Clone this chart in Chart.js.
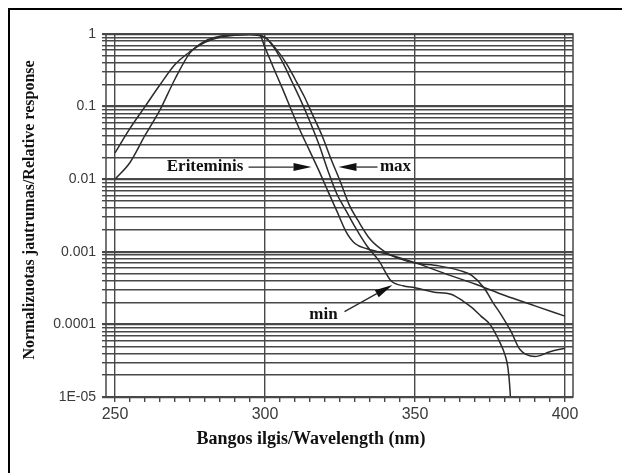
<!DOCTYPE html>
<html>
<head>
<meta charset="utf-8">
<script src="https://cdn.jsdelivr.net/npm/chart.js@4.4.1/dist/chart.umd.min.js"></script>
<style>
    html, body { margin: 0; padding: 0; background: #fff; }
    #wrap { position: relative; width: 622px; height: 473px; overflow: hidden; }
    #frame {
        position: absolute; left: 8px; top: 8px; width: 640px; height: 480px;
        border-left: 2px solid #000; border-top: 2px solid #000;
    }
    #spectrum { position: absolute; left: 0; top: 0; }
</style>
</head>
<body>
<div id="wrap">
    <div id="frame"></div>
    <canvas id="spectrum" width="622" height="473"></canvas>
</div>
<script>
/* ==========================================
   Spectral response data (relative, log scale)
========================================== */

const wavelengthTicks = [250, 255, 260, 265, 270, 275, 280, 285, 290, 295, 300, 305, 310, 315,
    320, 325, 330, 335, 340, 345, 350, 355, 360, 365, 370, 375, 380, 385, 390, 395, 400];

const labelledWavelengths = [250, 300, 350, 400];

const gridValues = [
    0.00001, 0.00002, 0.00003, 0.00004, 0.00005, 0.00006, 0.00007, 0.00008, 0.00009,
    0.0001, 0.0002, 0.0003, 0.0004, 0.0005, 0.0006, 0.0007, 0.0008, 0.0009,
    0.001, 0.002, 0.003, 0.004, 0.005, 0.006, 0.007, 0.008, 0.009,
    0.01, 0.02, 0.03, 0.04, 0.05, 0.06, 0.07, 0.08, 0.09,
    0.1, 0.2, 0.3, 0.4, 0.5, 0.6, 0.7, 0.8, 0.9,
    1
];

const decadeValues = [1, 0.1, 0.01, 0.001, 0.0001, 0.00001];
const decadeLabels = ['1', '0.1', '0.01', '0.001', '0.0001', '1E-05'];

// erythemal action spectrum
const eritWl = [250, 270, 290, 298, 300, 303, 306, 309, 312, 315, 318, 321, 324, 327, 330,
    334, 340, 350, 360, 370, 380, 390, 400];
const eritVal = [1, 1, 1, 1, 0.65, 0.33, 0.17, 0.085, 0.044, 0.024, 0.013, 0.0068, 0.0036,
    0.0019, 0.0013, 0.0011, 0.00095, 0.00071, 0.0005, 0.00036, 0.00025, 0.00018, 0.00013];

// meter response, upper envelope
const maxWl = [250, 255, 260, 265, 270, 275, 280, 285, 290, 295, 300, 304, 307, 310, 313,
    316, 319, 322, 325, 328, 331, 335, 340, 345, 350, 358, 365, 369, 373, 376, 379, 382,
    385, 390, 395, 400];
const maxVal = [0.023, 0.05, 0.1, 0.2, 0.38, 0.57, 0.77, 0.9, 0.96, 0.98, 0.9, 0.6, 0.4,
    0.24, 0.14, 0.075, 0.04, 0.019, 0.0095, 0.0045, 0.0027, 0.0015, 0.001, 0.0008, 0.0007,
    0.00064, 0.00055, 0.00047, 0.00032, 0.0002, 0.00013, 0.00008, 0.000045, 0.000036,
    0.000042, 0.000047];

// meter response, lower envelope
const minWl = [250, 255, 260, 265, 270, 275, 280, 285, 290, 295, 300, 303, 306, 309, 312,
    315, 318, 321, 324, 327, 330, 334, 338, 342, 346, 350, 356, 362, 366, 369, 372, 375,
    378, 380, 381, 381.7, 382.2];
const minVal = [0.01, 0.017, 0.04, 0.09, 0.24, 0.55, 0.8, 0.93, 0.98, 0.99, 0.9, 0.65, 0.4,
    0.22, 0.12, 0.062, 0.03, 0.013, 0.0062, 0.0037, 0.0022, 0.0012, 0.00075, 0.0004, 0.00034,
    0.00032, 0.00028, 0.00026, 0.00021, 0.00017, 0.00013, 0.0001, 0.00006, 0.000038,
    0.000025, 0.000012, 0.000004];

const notes = [
    { text: 'Eriteminis', at: [280, 0.0147], from: [294.5, 0.0147], to: [315.5, 0.0147] },
    { text: 'max', at: [343.5, 0.0147], from: [337.5, 0.0147], to: [324.5, 0.0147] },
    { text: 'min', at: [319.5, 0.000135], from: [326.5, 0.00015], to: [342.5, 0.00035] }
];

const ink = '#2b2b2b';
const gridInk = '#484848';

function toPoints(wl, val) {
    return wl.map(function (w, i) {
        return { x: w, y: val[i] };
    });
}

function curve(label, wl, val) {
    return {
        label: label,
        data: toPoints(wl, val),
        borderColor: ink,
        borderWidth: 1.5,
        pointRadius: 0,
        cubicInterpolationMode: 'monotone',
        fill: false
    };
}

function isDecade(value) {
    return decadeValues.some(function (d) {
        return Math.abs(value / d - 1) < 1e-6;
    });
}

// box around the plot area
const framePlugin = {
    id: 'plotFrame',
    afterDraw(chart) {
        const { ctx, chartArea } = chart;
        ctx.save();
        ctx.strokeStyle = gridInk;
        ctx.lineWidth = 1.5;
        ctx.strokeRect(chartArea.left, chartArea.top,
            chartArea.right - chartArea.left, chartArea.bottom - chartArea.top);
        ctx.restore();
    }
};

// curve names with arrows, plus both axis captions
const notesPlugin = {
    id: 'curveNotes',
    afterDatasetsDraw(chart) {
        const { ctx } = chart;
        const xs = chart.scales.x;
        const ys = chart.scales.y;

        ctx.save();
        ctx.fillStyle = '#111';
        ctx.strokeStyle = ink;
        ctx.lineWidth = 1.3;
        ctx.font = 'bold 17px "Liberation Serif"';
        ctx.textAlign = 'center';
        ctx.textBaseline = 'middle';

        notes.forEach(function (n) {
            ctx.fillText(n.text, xs.getPixelForValue(n.at[0]), ys.getPixelForValue(n.at[1]));

            const x0 = xs.getPixelForValue(n.from[0]);
            const y0 = ys.getPixelForValue(n.from[1]);
            const x1 = xs.getPixelForValue(n.to[0]);
            const y1 = ys.getPixelForValue(n.to[1]);
            const ang = Math.atan2(y1 - y0, x1 - x0);
            const len = 18;
            const half = 4;

            ctx.beginPath();
            ctx.moveTo(x0, y0);
            ctx.lineTo(x1 - Math.cos(ang) * len, y1 - Math.sin(ang) * len);
            ctx.stroke();

            ctx.beginPath();
            ctx.moveTo(x1, y1);
            ctx.lineTo(x1 - Math.cos(ang) * len - Math.sin(ang) * half,
                y1 - Math.sin(ang) * len + Math.cos(ang) * half);
            ctx.lineTo(x1 - Math.cos(ang) * len + Math.sin(ang) * half,
                y1 - Math.sin(ang) * len - Math.cos(ang) * half);
            ctx.closePath();
            ctx.fill();
        });

        ctx.font = 'bold 18px "Liberation Serif"';
        ctx.fillText('Bangos ilgis/Wavelength (nm)', 311, 439);

        ctx.translate(30, 210);
        ctx.rotate(-Math.PI / 2);
        ctx.font = 'bold 16px "Liberation Serif"';
        ctx.fillText('Normalizuotas jautrumas/Relative response', 0, 0);
        ctx.restore();
    }
};

new Chart(document.getElementById('spectrum'), {

    type: 'line',

    data: {
        datasets: [
            curve('Eriteminis', eritWl, eritVal),
            curve('max', maxWl, maxVal),
            curve('min', minWl, minVal)
        ]
    },

    plugins: [framePlugin, notesPlugin],

    options: {
        responsive: false,
        animation: false,
        layout: {
            padding: { top: 34, right: 49, left: 0, bottom: 0 }
        },
        plugins: {
            legend: { display: false },
            tooltip: { enabled: false }
        },
        scales: {
            x: {
                type: 'linear',
                min: 247,
                max: 402.67,
                afterBuildTicks: function (scale) {
                    scale.ticks = wavelengthTicks.map(function (v) {
                        return { value: v };
                    });
                },
                afterFit: function (scale) {
                    scale.height = 76;
                },
                border: { display: false },
                grid: {
                    color: function (ctx) {
                        return ctx.tick && labelledWavelengths.includes(ctx.tick.value)
                            ? gridInk : 'rgba(0,0,0,0)';
                    },
                    tickColor: gridInk,
                    lineWidth: 1.4,
                    tickLength: 5
                },
                ticks: {
                    autoSkip: false,
                    maxRotation: 0,
                    padding: 3,
                    color: '#3a3a3a',
                    font: { family: 'Liberation Sans', size: 16 },
                    callback: function (value) {
                        return labelledWavelengths.includes(value) ? String(value) : '';
                    }
                }
            },
            y: {
                type: 'logarithmic',
                min: 0.00001,
                max: 1,
                afterBuildTicks: function (scale) {
                    scale.ticks = gridValues.map(function (v) {
                        return { value: v };
                    });
                },
                afterFit: function (scale) {
                    scale.width = 106;
                },
                border: { display: false },
                grid: {
                    color: gridInk,
                    lineWidth: function (ctx) {
                        return ctx.tick && isDecade(ctx.tick.value) ? 2.2 : 1.4;
                    },
                    tickLength: 4
                },
                ticks: {
                    autoSkip: false,
                    padding: 6,
                    color: '#3a3a3a',
                    font: { family: 'Liberation Sans', size: 14 },
                    callback: function (value) {
                        if (!isDecade(value)) {
                            return '';
                        }
                        const i = decadeValues.findIndex(function (d) {
                            return Math.abs(value / d - 1) < 1e-6;
                        });
                        return decadeLabels[i];
                    }
                }
            }
        }
    }
});
</script>
</body>
</html>
